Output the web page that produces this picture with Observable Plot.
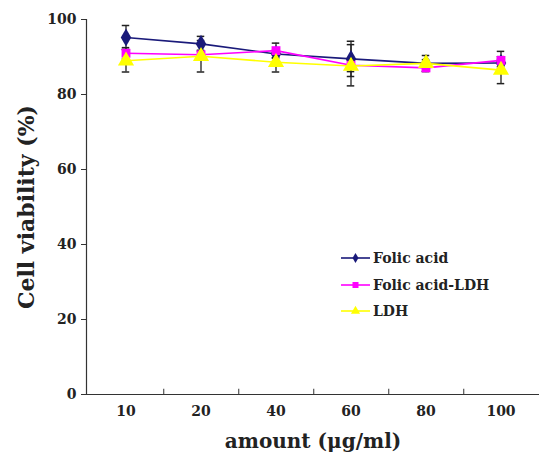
<!DOCTYPE html>
<html>
<head>
<meta charset="utf-8">
<script src="https://cdn.jsdelivr.net/npm/d3@7"></script>
<script src="https://cdn.jsdelivr.net/npm/@observablehq/plot@0.6"></script>
<style>
  html, body { margin: 0; padding: 0; background: #fff; overflow: hidden; }
  #wrap { position: relative; width: 539px; height: 459px; }
  #legend { position: absolute; left: 340px; top: 245px; font-family: "DejaVu Serif", "Liberation Serif", serif; font-weight: bold; font-size: 14px; color: #222; }
  #legend .row { display: flex; align-items: center; height: 26.5px; }
  #legend svg { margin-right: 2px; }
</style>
</head>
<body>
<div id="wrap">
  <div id="chart"></div>
  <div id="legend"></div>
</div>
<script>
const categories = ["10", "20", "40", "60", "80", "100"];
const seriesNames = ["Folic acid", "Folic acid-LDH", "LDH"];
const folicAcid = [95.2, 93.5, 90.8, 89.5, 88.3, 88.4];
const folicAcidErr = [3.2, 2.0, 1.0, 4.7, 1.0, 1.0];
const folicLDH = [91.0, 90.6, 91.7, 87.8, 87.1, 89.1];
const folicLDHErr = [1.5, 1.2, 2.0, 5.5, 1.0, 2.4];
const ldh = [89.0, 90.2, 88.6, 87.6, 88.3, 86.5];
const ldhErr = [3.0, 4.2, 2.6, 1.5, 2.1, 3.6];
const yTicks = [0, 20, 40, 60, 80, 100];
const colors = ["#1a1a7a", "#ff00ff", "#ffff00"];
const symbols = ["diamond", "square", "triangle"];
const symbolSizes = [5.5, 5, 6];

const valueSets = [folicAcid, folicLDH, ldh];
const errSets = [folicAcidErr, folicLDHErr, ldhErr];
const rows = [];
seriesNames.forEach((s, i) => {
  categories.forEach((c, j) => {
    rows.push({series: s, idx: i, amount: c, value: valueSets[i][j], lo: valueSets[i][j] - errSets[i][j], hi: valueSets[i][j] + errSets[i][j]});
  });
});
const boundaries = categories.slice(0, -1);

const font = "'DejaVu Serif', 'Liberation Serif', serif";
const W = 539, H = 459, mL = 86, mR = 0, mT = 19, mB = 65;
const bw = (W - mL - mR) / categories.length;

const marks = [
  Plot.ruleY([0], {stroke: "#333", strokeWidth: 1.2}),
  Plot.ruleX(boundaries, {x: d => d, y1: 0, y2: 1.4, dx: bw / 2, stroke: "#333", strokeWidth: 1}),
  Plot.axisY({ticks: yTicks, tickSize: 5, tickPadding: 5, fontSize: 14, fontWeight: "bold", label: null, stroke: "#333"}),
  Plot.axisX({tickSize: 0, tickPadding: 12, fontSize: 14, fontWeight: "bold", label: null}),
  Plot.frame({anchor: "left", stroke: "#333", strokeWidth: 1.2}),
  // error bars
  Plot.ruleX(rows, {x: "amount", y1: "lo", y2: "hi", stroke: "#222", strokeWidth: 1.3}),
  Plot.tickY(rows, {x: "amount", y: "lo", stroke: "#222", strokeWidth: 1.5, insetLeft: bw / 2 - 4, insetRight: bw / 2 - 4}),
  Plot.tickY(rows, {x: "amount", y: "hi", stroke: "#222", strokeWidth: 1.5, insetLeft: bw / 2 - 4, insetRight: bw / 2 - 4}),
];
seriesNames.forEach((s, i) => {
  const data = rows.filter(d => d.series === s);
  marks.push(Plot.line(data, {x: "amount", y: "value", stroke: colors[i], strokeWidth: 1.6}));
});
seriesNames.forEach((s, i) => {
  const data = rows.filter(d => d.series === s);
  marks.push(Plot.dot(data, {x: "amount", y: "value", fill: colors[i], stroke: "none", symbol: () => symbols[i], r: symbolSizes[i]}));
});
marks.push(Plot.text(["Cell viability (%)"], {text: d => d, frameAnchor: "left", textAnchor: "middle", rotate: -90, dx: -60, fontSize: 22, fontWeight: "bold", fill: "#222"}));
marks.push(Plot.text(["amount (μg/ml)"], {text: d => d, frameAnchor: "bottom", dy: 53, fontSize: 20, fontWeight: "bold", fill: "#222"}));

const chart = Plot.plot({
  width: W, height: H,
  marginLeft: mL, marginRight: mR, marginTop: mT, marginBottom: mB,
  style: {fontFamily: font, color: "#222", background: "white", overflow: "visible"},
  x: {type: "band", domain: categories, padding: 0, axis: null},
  y: {domain: [0, 100], axis: null},
  marks
});
document.getElementById("chart").appendChild(chart);

// legend
const legend = document.getElementById("legend");
seriesNames.forEach((s, i) => {
  const row = document.createElement("div");
  row.className = "row";
  const sym = d3.symbol().type({diamond: d3.symbolDiamond, square: d3.symbolSquare, triangle: d3.symbolTriangle}[symbols[i]]).size(i === 0 ? 30 : 36)();
  row.innerHTML = `<svg width="31" height="12"><line x1="1" x2="30" y1="6" y2="6" stroke="${colors[i]}" stroke-width="1.6"/><path d="${sym}" transform="translate(15.5,6)" fill="${colors[i]}"/></svg><span>${s}</span>`;
  legend.appendChild(row);
});
</script>
</body>
</html>
